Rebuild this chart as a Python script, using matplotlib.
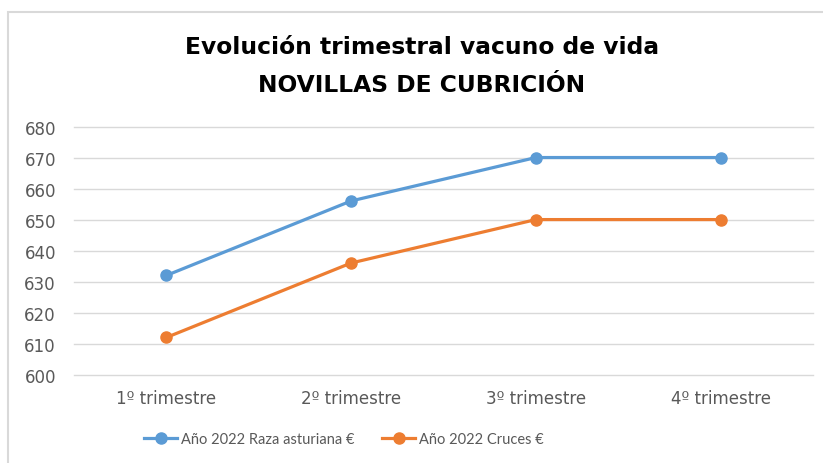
import matplotlib.pyplot as plt
from matplotlib.patches import Rectangle

trimestres = ['1º trimestre', '2º trimestre', '3º trimestre', '4º trimestre']
raza_asturiana = [632, 656, 670, 670]
cruces = [612, 636, 650, 650]

plt.rcParams['font.family'] = ['DejaVu Sans']

fig = plt.figure(figsize=(8.23, 4.64), dpi=100)
ax = fig.add_axes([0.0899, 0.1903, 0.8979, 0.5349])

# marco gris del grafico
fig.patches.append(Rectangle((8 / 823, -0.1), 1.2, 1 - 13 / 464 + 0.1,
                             transform=fig.transFigure, fill=False,
                             edgecolor='#d9d9d9', linewidth=1.5))

x = range(len(trimestres))
ax.plot(x, raza_asturiana, color='#5B9BD5', lw=2.3, marker='o', ms=8,
        label='Año 2022 Raza asturiana €')
ax.plot(x, cruces, color='#ED7D31', lw=2.3, marker='o', ms=8,
        label='Año 2022 Cruces €')

ax.set_xlim(-0.5, 3.5)
ax.set_ylim(600, 680)
ax.set_yticks(range(600, 681, 10))
ax.set_xticks(list(x))
ax.set_xticklabels(trimestres)
ax.grid(axis='y', color='#d9d9d9', lw=1)
for gl in ax.get_ygridlines():
    gl.set_clip_on(False)
ax.set_axisbelow(True)
for s in ax.spines.values():
    s.set_visible(False)
ax.tick_params(length=0, labelsize=12, labelcolor='#595959')
ax.tick_params(axis='y', pad=13)
ax.tick_params(axis='x', pad=10)

fig.text(422 / 823, 1 - 48 / 464, 'Evolución trimestral vacuno de vida', ha='center',
         va='center', fontsize=16.8, fontweight='bold', color='black')
fig.text(422 / 823, 1 - 86 / 464, 'NOVILLAS DE CUBRICIÓN', ha='center',
         va='center', fontsize=16.8, fontweight='bold', color='black')

leg = fig.legend(loc='center', bbox_to_anchor=(344 / 823, 1 - 440 / 464), ncol=2,
                 frameon=False,
                 prop={'family': ['Liberation Sans Narrow', 'Lato'], 'size': 10.5},
                 handlelength=2.25, handletextpad=0.27, columnspacing=1.9)
for t in leg.get_texts():
    t.set_color('#595959')

fig.savefig('out.png', dpi=100)
